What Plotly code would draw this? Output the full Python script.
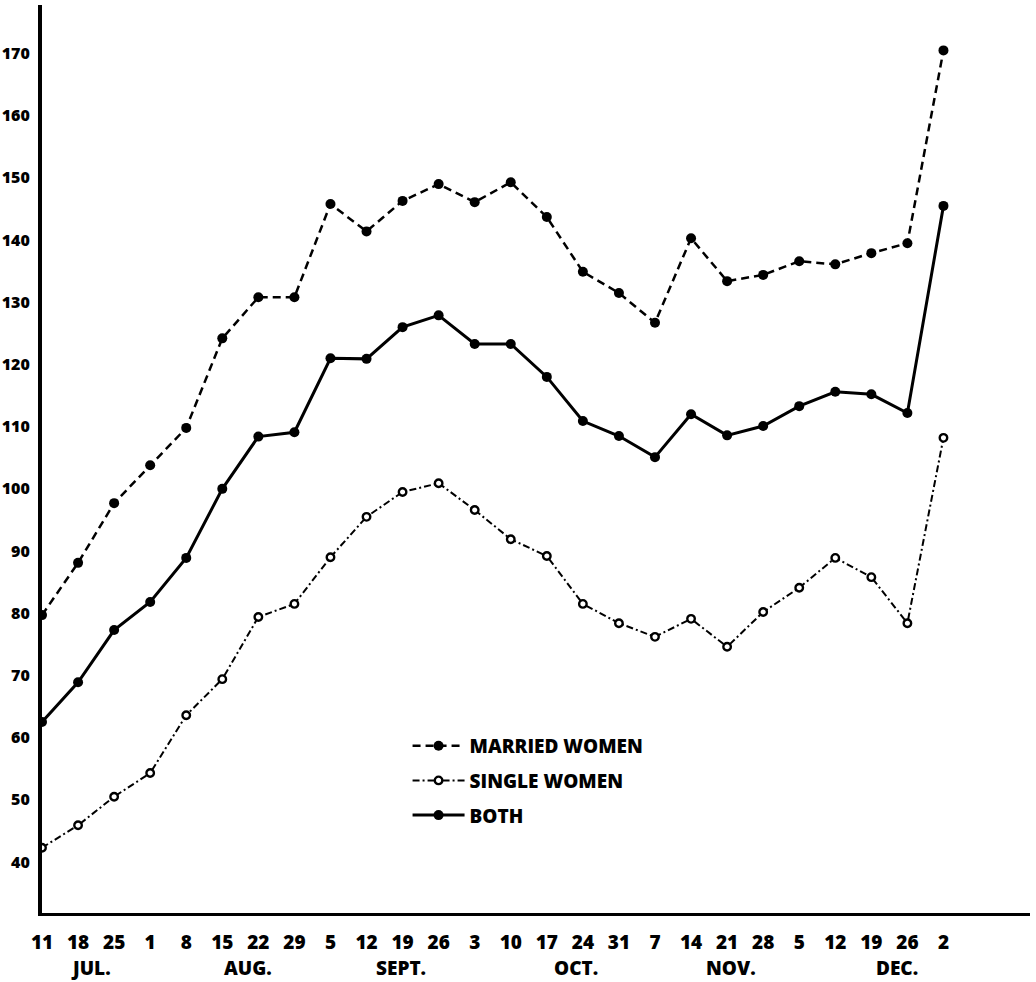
import plotly.graph_objects as go

# ---- data ----
day_labels = ["11", "18", "25", "1", "8", "15", "22", "29", "5", "12", "19", "26",
              "3", "10", "17", "24", "31", "7", "14", "21", "28", "5", "12", "19", "26", "2"]
month_names = ["JUL.", "AUG.", "SEPT.", "OCT.", "NOV.", "DEC."]
month_centers = [1.35, 5.7, 9.95, 14.8, 19.1, 23.7]

married = [79.7, 88.1, 97.7, 103.8, 109.8, 124.2, 130.8, 130.8, 145.8, 141.4, 146.3, 149.0,
           146.1, 149.3, 143.7, 134.9, 131.5, 126.7, 140.3, 133.4, 134.4, 136.6, 136.1,
           137.9, 139.5, 170.5]
single = [42.3, 45.9, 50.5, 54.3, 63.6, 69.4, 79.4, 81.5, 89.0, 95.5, 99.5, 100.9,
          96.6, 91.9, 89.2, 81.5, 78.4, 76.2, 79.1, 74.6, 80.2, 84.1, 88.9, 85.8, 78.4, 108.2]
both = [62.5, 68.9, 77.3, 81.8, 88.9, 100.0, 108.4, 109.1, 121.0, 120.9, 126.0, 127.9,
        123.3, 123.3, 118.0, 110.9, 108.5, 105.1, 112.0, 108.6, 110.1, 113.3, 115.6,
        115.2, 112.2, 145.5]
y_ticks = list(range(40, 180, 10))

x = list(range(len(day_labels)))
FONT = "Open Sans"
W = 800

fig = go.Figure()
fig.add_trace(go.Scatter(
    x=x, y=married, name="MARRIED WOMEN", mode="lines+markers", legendgroup="m",
    line=dict(color="black", width=2.5, dash="8px,5px"),
    marker=dict(color="black", size=10)))
fig.add_trace(go.Scatter(
    x=x, y=single, name="SINGLE WOMEN", mode="lines+markers", legendgroup="s",
    line=dict(color="black", width=2, dash="7px,3px,2px,3px"),
    marker=dict(color="white", size=7.5, symbol="circle",
                line=dict(color="black", width=2.4))))
fig.add_trace(go.Scatter(
    x=x, y=both, name="BOTH", mode="lines+markers", legendgroup="b",
    line=dict(color="black", width=3),
    marker=dict(color="black", size=10)))

for name, cx in zip(month_names, month_centers):
    fig.add_annotation(x=cx, y=0, xref="x", yref="paper", yshift=-55,
                       yanchor="middle", text=name, showarrow=False, borderpad=0,
                       font=dict(family=FONT, size=19, color="black", weight=W))

fig.update_layout(
    width=1036, height=982,
    margin=dict(l=42, r=6, t=5, b=69, pad=0),
    paper_bgcolor="white", plot_bgcolor="white",
    showlegend=True,
    legend=dict(x=0.370, y=0.205, xanchor="left", yanchor="top",
                bgcolor="rgba(0,0,0,0)", tracegroupgap=7,
                font=dict(family=FONT, size=19, color="black", weight=W),
                itemwidth=52),
    xaxis=dict(range=[0, 27.4], tickmode="array", tickvals=x, ticktext=day_labels,
               showgrid=False, zeroline=False, showline=True, linecolor="black",
               linewidth=3, ticks="", ticklabelstandoff=10, automargin=False,
               tickfont=dict(family=FONT, size=19, color="black", weight=W)),
    yaxis=dict(range=[31.8, 177.8], tickmode="array", tickvals=y_ticks,
               showgrid=False, zeroline=False, showline=True, linecolor="black",
               linewidth=4, ticks="", ticklabelstandoff=5, automargin=False,
               tickfont=dict(family=FONT, size=16, color="black", weight=W)),
)

fig.write_html("out.html", config={"displayModeBar": False},
               post_script="document.body.style.margin='0';")
